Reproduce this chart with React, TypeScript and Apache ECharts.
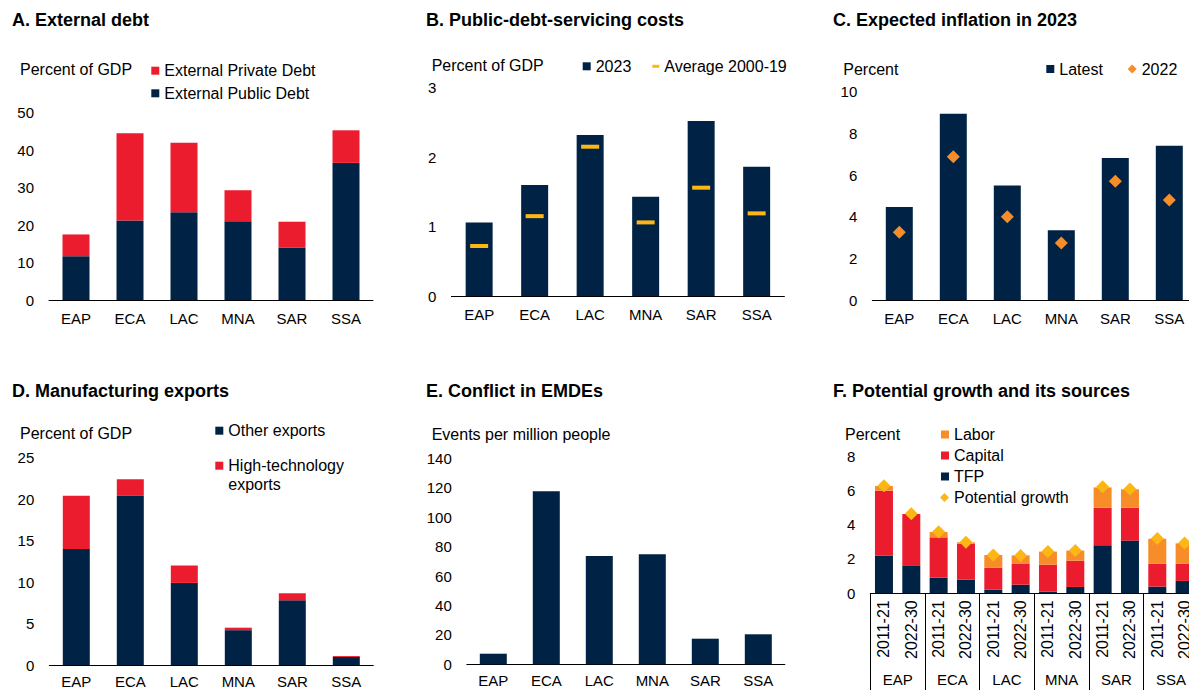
import React, { useEffect, useRef } from 'react';
import * as echarts from 'echarts';

// ---------- Data ----------
const regions = ['EAP', 'ECA', 'LAC', 'MNA', 'SAR', 'SSA'];

// A. External debt (percent of GDP)
const extPublicDebt = [11.7, 21.2, 23.4, 21.0, 14.0, 36.6];
const extPrivateDebt = [5.8, 23.3, 18.6, 8.3, 6.9, 8.7];

// B. Public-debt-servicing costs (percent of GDP)
const debtService2023 = [1.06, 1.6, 2.32, 1.43, 2.52, 1.86];
const debtServiceAvg = [0.72, 1.15, 2.15, 1.06, 1.56, 1.19];

// C. Expected inflation in 2023 (percent)
const inflationLatest = [4.46, 8.94, 5.5, 3.35, 6.82, 7.4];
const inflation2022 = [3.25, 6.88, 4.0, 2.74, 5.7, 4.8];

// D. Manufacturing exports (percent of GDP)
const otherExports = [14.0, 20.4, 9.9, 4.2, 7.8, 0.97];
const hiTechExports = [6.4, 2.0, 2.1, 0.3, 0.85, 0.11];

// E. Conflict in EMDEs (events per million people)
const conflictEvents = [7.2, 117.6, 73.6, 74.8, 17.4, 20.4];

// F. Potential growth and its sources (percent)
const periods = ['2011-21', '2022-30'];
const fCategories = regions.flatMap(() => periods);
const tfp = [2.19, 1.63, 0.91, 0.8, 0.21, 0.5, 0.1, 0.37, 2.8, 3.07, 0.39, 0.72];
const capital = [3.79, 2.99, 2.35, 2.09, 1.29, 1.21, 1.57, 1.53, 2.19, 1.92, 1.34, 1.01];
const labor = [0.27, -0.05, 0.31, 0.08, 0.73, 0.5, 0.76, 0.59, 1.18, 1.07, 1.45, 1.18];
const potential = [6.27, 4.64, 3.59, 2.97, 2.23, 2.2, 2.43, 2.49, 6.21, 6.08, 3.2, 2.93];

// Axis ranges [min, max, interval]
const rangeA = [0, 50, 10];
const rangeB = [0, 3, 1];
const rangeC = [0, 10, 2];
const rangeD = [0, 25, 5];
const rangeE = [0, 140, 20];
const rangeF = [0, 8, 2];

// ---------- Styles ----------
const FONT = '"Liberation Sans", Arial, Helvetica, sans-serif';
const NAVY = '#002345';
const RED = '#EB1C2D';
const ORANGE = '#F78D28';
const GOLD = '#FDB714';

function txt(text: string, x: number, y: number, size: number, bold = false) {
  return {
    type: 'text',
    x,
    y,
    style: {
      text,
      fill: '#000',
      fontSize: size,
      fontFamily: FONT,
      fontWeight: bold ? 'bold' : 'normal',
      align: 'left',
      verticalAlign: 'middle',
      textAlign: 'left',
      textVerticalAlign: 'middle',
    },
  };
}

function leg(name: string, textX: number, yc: number, icon: string, w: number, h: number, label?: string) {
  const o: any = {
    show: true,
    data: [{ name, icon, itemStyle: { opacity: 1 } }],
    left: textX - w - 5,
    top: yc - 8,
    orient: 'horizontal',
    itemWidth: w,
    itemHeight: h,
    padding: 0,
    selectedMode: false,
    textStyle: { fontSize: 16, fontFamily: FONT, color: '#000' },
  };
  if (label) o.formatter = () => label;
  return o;
}

function grid(left: number, top: number, width: number, bottom: number) {
  return { left, top, width, height: bottom - top, containLabel: false, outerBoundsMode: 'none' };
}

function xCat(gridIndex: number, data: string[], margin: number, extra: any = {}) {
  return {
    type: 'category',
    gridIndex,
    data,
    axisLine: { show: true, lineStyle: { color: '#000', width: 1 } },
    axisTick: { show: false },
    splitLine: { show: false },
    axisLabel: { fontSize: 15, color: '#000', fontFamily: FONT, margin, interval: 0 },
    ...extra,
  };
}

function yVal(gridIndex: number, r: number[]) {
  return {
    type: 'value',
    gridIndex,
    min: r[0],
    max: r[1],
    interval: r[2],
    axisLine: { show: false },
    axisTick: { show: false },
    splitLine: { show: false },
    axisLabel: { fontSize: 15, color: '#000', fontFamily: FONT, margin: 15 },
  };
}

function bar(name: string, idx: number, data: number[], color: string, width: number, stack?: string) {
  const o: any = {
    name,
    type: 'bar',
    xAxisIndex: idx,
    yAxisIndex: idx,
    data,
    barWidth: width,
    itemStyle: { color, opacity: 1 },
  };
  if (stack) o.stack = stack;
  return o;
}

function marker(name: string, idx: number, data: number[], color: string, symbol: string, size: any) {
  return {
    name,
    type: 'scatter',
    xAxisIndex: idx,
    yAxisIndex: idx,
    data,
    symbol,
    symbolSize: size,
    itemStyle: { color, opacity: 1 },
    z: 5,
  };
}

export default function App() {
  const ref = useRef<HTMLDivElement>(null);
  useEffect(() => {
    if (!ref.current) return;
    const chart = echarts.init(ref.current, undefined, { renderer: 'svg' });
    const option: any = {
      animation: false,
      backgroundColor: '#fff',
      textStyle: { fontFamily: FONT },
      grid: [
        grid(49, 112.7, 324, 300),
        grid(451.4, 87.7, 333, 296),
        grid(872.3, 91.7, 324, 300),
        grid(49.3, 457.7, 324, 665),
        grid(466.8, 458.3, 318, 664.3),
        grid(870.3, 456, 328, 593.3),
      ],
      xAxis: [
        xCat(0, regions, 11),
        xCat(1, regions, 11),
        xCat(2, regions, 11),
        xCat(3, regions, 8.5),
        xCat(4, regions, 9),
        xCat(5, fCategories, 7, {
          axisLabel: { fontSize: 16, color: '#000', fontFamily: FONT, margin: 7, interval: 0, rotate: 90 },
        }),
        {
          type: 'category',
          gridIndex: 5,
          position: 'bottom',
          offset: 0,
          data: regions,
          axisLine: { show: false },
          axisTick: { show: true, length: 100, interval: 0, lineStyle: { color: '#000', width: 1 } },
          splitLine: { show: false },
          axisLabel: { fontSize: 15, color: '#000', fontFamily: FONT, margin: 79, interval: 0 },
        },
      ],
      yAxis: [
        yVal(0, rangeA),
        yVal(1, rangeB),
        yVal(2, rangeC),
        yVal(3, rangeD),
        yVal(4, rangeE),
        yVal(5, rangeF),
      ],
      legend: [
        leg('External Private Debt', 164.3, 70.7, 'rect', 8, 8),
        leg('External Public Debt', 164.3, 93.3, 'rect', 8, 8),
        leg('2023', 595.7, 66.3, 'rect', 8, 8),
        leg('Average 2000-19', 664.3, 66.3, 'rect', 7, 3),
        leg('Latest', 1059.3, 69, 'rect', 8, 8),
        leg('2022', 1141.7, 69, 'diamond', 9, 9),
        leg('Other exports', 228.3, 430.7, 'rect', 8, 8),
        leg('High-technology exports', 228.3, 465.7, 'rect', 8, 8, 'High-technology'),
        leg('Labor', 954, 434.5, 'rect', 8, 8),
        leg('Capital', 954, 455.5, 'rect', 8, 8),
        leg('TFP', 954, 476.5, 'rect', 8, 8),
        leg('Potential growth', 954, 497.5, 'diamond', 9, 9),
      ],
      graphic: [
        txt('A. External debt', 12, 20, 18, true),
        txt('B. Public-debt-servicing costs', 426, 20, 18, true),
        txt('C. Expected inflation in 2023', 833, 20, 18, true),
        txt('D. Manufacturing exports', 12, 391, 18, true),
        txt('E. Conflict in EMDEs', 426, 391, 18, true),
        txt('F. Potential growth and its sources', 833, 391, 18, true),
        txt('Percent of GDP', 20, 69.5, 16),
        txt('Percent of GDP', 431.7, 65.7, 16),
        txt('Percent', 843.3, 69.3, 16),
        txt('Percent of GDP', 20, 433.8, 16),
        txt('Events per million people', 431.7, 434, 16),
        txt('Percent', 845, 434, 16),
        txt('exports', 228.3, 484, 16),
      ],
      series: [
        bar('External Public Debt', 0, extPublicDebt, NAVY, 27, 'A'),
        bar('External Private Debt', 0, extPrivateDebt, RED, 27, 'A'),
        bar('2023', 1, debtService2023, NAVY, 27),
        marker('Average 2000-19', 1, debtServiceAvg, GOLD, 'rect', [18, 4]),
        bar('Latest', 2, inflationLatest, NAVY, 27),
        marker('2022', 2, inflation2022, ORANGE, 'diamond', 13),
        bar('Other exports', 3, otherExports, NAVY, 27, 'D'),
        bar('High-technology exports', 3, hiTechExports, RED, 27, 'D'),
        bar('Conflict events', 4, conflictEvents, NAVY, 27),
        bar('TFP', 5, tfp, NAVY, 18, 'F'),
        bar('Capital', 5, capital, RED, 18, 'F'),
        bar('Labor', 5, labor, ORANGE, 18, 'F'),
        marker('Potential growth', 5, potential, GOLD, 'diamond', 13),
      ],
    };
    chart.setOption(option);
    return () => chart.dispose();
  }, []);
  return (
    <div
      ref={ref}
      style={{ position: 'absolute', left: 0, top: 0, width: 1189, height: 690, background: '#fff' }}
    />
  );
}
